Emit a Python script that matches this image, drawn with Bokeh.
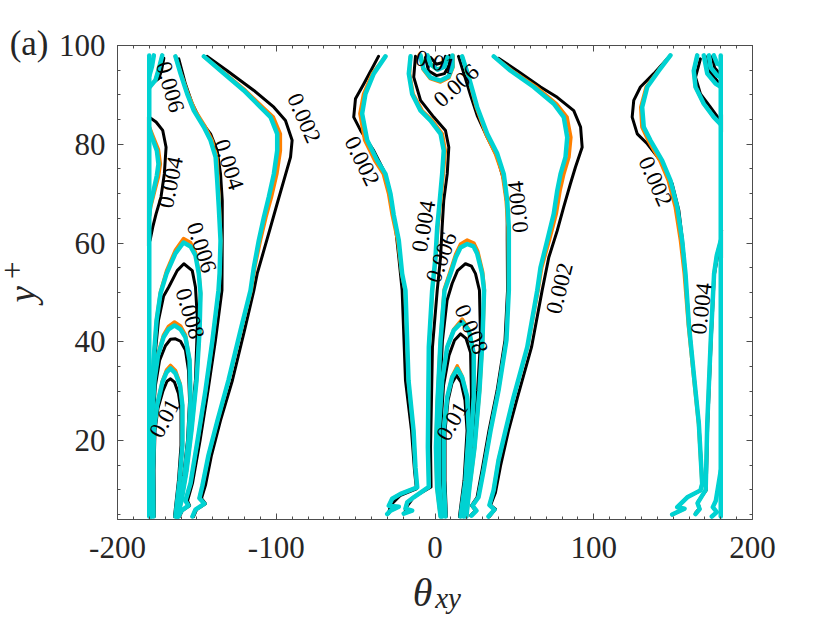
import math
from bokeh.plotting import figure
from bokeh.models import Range1d, LinearAxis, FixedTicker, Label
from bokeh.embed import file_html
from bokeh.resources import INLINE
from bokeh.core.properties import value

# ---------------- axes ----------------
x_ticks = [-200, -100, 0, 100, 200]
x_tick_labels = ["-200", "-100", "0", "100", "200"]
y_ticks = [20, 40, 60, 80, 100]
x_minor = list(range(-200, 201, 10))
y_minor = list(range(5, 101, 5))

# ---------------- contour lines (theta_xy, y+) ----------------
# cyan series
cyan_mid_xs = [
    [-31.2, -38.6, -43.8, -45.9, -42.7, -36.4, -31.2, -28.0, -26.0, -22.8, -20.7, -18.6, -16.7, -13.5, -12.3, -11.2, -21.7, -27.0, -29.1, -22.8, -28.0, -30.1],
    [-15.4, -16.5, -14.4, -9.1, -2.8, 3.5, 5.5, 4.5, 3.0, 1.4, 0.3, -1.8, -3.9, -4.5, -3.9, -13.4, -17.5, -18.6, -14.4, -19.7],
    [17.1, 21.3, 26.6, 32.9, 39.2, 43.3, 45.5, 46.5, 46.5, 46.5, 45.0, 40.0, 35.0, 30.6, 27.4, 23.6, 26.1, 23.0],
    [37.0, 47.6, 62.2, 74.8, 81.1, 83.3, 82.2, 79.1, 77.0, 74.8, 70.7, 66.5, 64.4, 58.1, 49.5, 44.4, 40.0, 36.9, 34.3, 37.5, 33.7],
    [3.5, 1.3, 0.6, 1.6, 3.5, 6.0, 9.8, 13.1, 16.1, 20.3, 24.3, 26.6, 29.7, 30.9, 29.9, 28.0, 24.9, 21.7, 19.8],
    [4.5, 2.4, 2.4, 4.5, 7.7, 11.8, 17.1, 21.3, 24.4, 24.4, 22.4, 20.3, 18.1],
    [6.6, 5.5, 5.5, 7.7, 10.8, 14.0, 17.1, 20.3, 21.3, 19.2, 16.1],
    [-9.1, -7.2, -2.8, 3.5, 8.5, 11.0, 11.0],
    [-4.7, -2.8, 1.6, 6.0, 7.9],
]
cyan_mid_ys = [
    [97.8, 94.3, 90.2, 86.2, 80.8, 76.7, 74.0, 69.9, 65.7, 60.5, 53.8, 50.4, 32.2, 22.0, 14.5, 10.5, 9.2, 8.2, 6.8, 6.6, 5.8, 5.1],
    [97.8, 94.3, 90.2, 86.8, 84.8, 82.1, 78.7, 74.0, 68.6, 63.2, 57.1, 50.4, 38.9, 18.7, 10.6, 8.5, 7.5, 6.2, 5.8, 5.2],
    [97.8, 93.6, 87.5, 82.1, 78.1, 74.0, 68.6, 63.2, 57.1, 50.4, 40.3, 30.1, 22.0, 13.9, 8.5, 6.8, 5.8, 4.8],
    [97.8, 94.9, 91.6, 88.2, 85.5, 81.4, 77.4, 74.0, 70.6, 65.9, 60.5, 55.1, 50.4, 38.9, 28.8, 22.0, 16.0, 9.9, 6.9, 6.0, 4.6],
    [4.6, 10.5, 18.6, 28.1, 40.3, 50.4, 53.8, 57.1, 59.1, 59.8, 59.3, 57.8, 53.8, 50.4, 40.3, 30.1, 18.6, 10.5, 4.6],
    [4.6, 11.9, 22.0, 32.2, 38.9, 42.3, 44.0, 42.3, 37.6, 28.8, 18.7, 10.6, 4.6],
    [4.6, 11.9, 22.0, 28.8, 32.8, 34.5, 32.8, 28.8, 22.0, 11.9, 4.6],
    [98.0, 95.3, 93.5, 92.9, 93.7, 95.7, 98.0],
    [98.0, 96.2, 95.1, 95.7, 97.6],
]
cyan_left_xs = [
    [-145.6, -135.0, -120.4, -109.9, -103.6, -99.4, -99.4, -101.5, -104.7, -107.8, -111.0, -114.1, -116.2, -122.5, -130.1, -137.0, -142.7, -146.5, -148.4, -145.2, -150.9, -152.8],
    [-163.5, -160.3, -156.1, -151.9, -145.6, -141.4, -138.2, -137.2, -136.2, -135.1, -135.7, -136.4, -140.2, -144.6, -149.6, -154.0, -157.2, -155.3, -159.7, -161.6],
    [-179.2, -179.5, -178.9, -177.3, -175.4, -172.9, -169.1, -163.5, -158.4, -154.0, -150.9, -148.8, -147.7, -148.3, -150.2, -153.4, -156.5, -159.7, -162.2],
    [-178.6, -178.9, -178.3, -176.7, -174.5, -171.0, -167.9, -164.1, -160.3, -157.2, -154.6, -154.0, -155.3, -157.8, -161.0, -162.9],
    [-177.3, -177.6, -177.0, -175.1, -171.7, -169.1, -166.6, -163.5, -160.6, -159.1, -159.1, -160.9, -163.5],
    [-180.0, -180.0],
    [-180.0, -178.3, -175.2, -174.2, -175.2, -177.3, -179.4, -180.0],
    [-171.8, -174.2, -176.1, -179.7],
    [-177.1, -178.3, -179.9],
]
cyan_left_ys = [
    [97.8, 94.9, 90.9, 87.5, 85.5, 82.1, 78.7, 74.0, 69.3, 65.2, 60.5, 55.1, 50.4, 42.3, 32.2, 24.1, 17.0, 10.9, 8.3, 7.2, 6.0, 4.6],
    [97.8, 94.3, 90.2, 86.8, 83.5, 80.8, 77.4, 72.7, 67.3, 60.5, 53.8, 50.4, 40.3, 30.1, 20.0, 11.3, 7.8, 6.8, 5.8, 4.6],
    [4.6, 11.9, 24.1, 36.2, 44.3, 49.8, 53.8, 57.9, 60.1, 59.3, 57.5, 53.8, 49.8, 42.3, 32.2, 22.0, 13.9, 7.8, 4.6],
    [4.6, 13.9, 24.1, 32.2, 37.2, 40.9, 42.5, 43.3, 42.5, 40.9, 36.2, 28.1, 20.0, 12.9, 6.8, 4.6],
    [4.6, 13.9, 22.0, 27.1, 31.8, 33.8, 34.6, 33.6, 31.2, 27.1, 19.0, 11.9, 4.6],
    [4.6, 98.0],
    [83.2, 81.4, 78.7, 76.0, 73.7, 70.6, 67.6, 65.6],
    [98.0, 95.0, 93.0, 91.6],
    [98.0, 95.7, 93.9],
]
cyan_right_xs = [
    [148.3, 141.0, 133.7, 130.5, 131.5, 135.7, 143.1, 148.3, 152.6, 155.7, 157.8, 159.9, 163.0, 166.2, 168.3, 167.2, 158.9, 152.6, 157.2, 149.4],
    [165.2, 163.0, 164.1, 169.3, 175.6, 180.0],
    [180.0, 177.5, 175.8, 173.7, 171.5, 170.5, 165.4, 166.7, 164.1],
    [180.0, 176.9, 175.0, 177.5, 174.4],
    [180.0, 180.0],
    [169.3, 171.5, 176.7, 180.0],
    [172.5, 173.5, 177.8, 180.0],
    [175.6, 177.8, 180.0],
]
cyan_right_ys = [
    [98.0, 94.9, 91.6, 87.5, 83.5, 80.8, 76.7, 72.7, 67.3, 60.5, 53.8, 43.6, 33.5, 23.4, 11.2, 9.9, 8.5, 6.5, 6.2, 5.0],
    [98.0, 94.9, 91.6, 88.2, 85.5, 84.0],
    [60.5, 57.5, 53.8, 40.3, 23.4, 10.0, 7.3, 6.1, 5.1],
    [13.9, 7.8, 6.5, 5.5, 4.6],
    [4.6, 98.0],
    [98.0, 94.3, 92.3, 91.6],
    [98.0, 95.6, 93.9, 93.6],
    [98.0, 96.3, 96.0],
]

# black series
black_mid_xs = [
    [-35.6, -44.9, -50.1, -51.2, -46.9, -38.6, -32.3, -28.0, -24.9, -22.8, -20.7, -18.6, -14.8, -12.9, -11.7, -21.7, -28.0, -29.3],
    [-12.3, -13.4, -9.1, -0.8, 6.6, 8.7, 7.7, 5.5, 4.5, 3.5, 1.4, -1.6, -2.8, -2.5, -13.5, -18.0, -19.2],
    [14.8, 18.6, 22.4, 26.6, 32.9, 39.2, 43.3, 45.5, 45.5, 45.7, 44.1, 39.1, 34.0, 29.6, 26.5, 23.0, 25.5, 22.4],
    [40.0, 51.8, 66.5, 77.0, 87.4, 91.7, 92.7, 88.5, 85.3, 81.1, 77.0, 71.7, 67.5, 60.8, 52.0, 46.3, 41.3, 38.1, 35.0, 38.1, 34.3],
    [4.7, 2.2, 1.9, 2.8, 4.7, 7.6, 10.8, 14.2, 19.2, 23.0, 25.5, 28.0, 28.7, 26.8, 23.6, 20.8, 18.9],
    [5.4, 3.5, 3.5, 5.4, 8.8, 12.3, 16.1, 19.5, 22.4, 23.0, 21.4, 19.5, 17.3],
    [7.2, 6.3, 6.3, 8.2, 10.7, 13.5, 16.4, 18.9, 20.2, 18.3, 15.4],
    [-6.0, -4.1, 0.9, 6.0, 9.1, 9.1],
    [-2.8, 0.9, 5.4, 6.6],
]
black_mid_ys = [
    [97.8, 92.2, 89.2, 85.5, 82.8, 78.7, 74.7, 68.6, 63.2, 57.1, 50.4, 32.2, 22.0, 13.9, 10.2, 8.9, 6.9, 5.2],
    [97.8, 93.6, 88.9, 85.5, 82.8, 79.4, 74.0, 68.6, 63.2, 57.1, 50.4, 38.9, 18.7, 10.6, 8.5, 6.5, 5.2],
    [97.8, 93.9, 89.9, 85.8, 81.4, 77.4, 72.7, 67.3, 60.5, 50.4, 40.3, 30.1, 22.0, 13.9, 8.5, 6.8, 5.8, 4.8],
    [97.4, 94.9, 91.6, 89.5, 86.8, 83.5, 79.4, 75.4, 72.0, 67.3, 62.5, 57.1, 50.4, 38.9, 28.8, 22.0, 14.9, 9.5, 6.9, 6.1, 4.6],
    [4.6, 10.6, 18.7, 28.1, 40.3, 48.4, 51.8, 54.4, 55.8, 55.3, 53.8, 50.4, 40.3, 30.1, 18.7, 10.6, 4.6],
    [4.6, 11.9, 22.0, 31.2, 37.2, 40.3, 41.6, 40.7, 37.8, 28.8, 18.7, 10.6, 4.6],
    [4.6, 11.9, 22.0, 28.1, 31.6, 33.2, 31.8, 28.1, 22.0, 11.9, 4.6],
    [97.6, 94.9, 93.9, 94.3, 96.2, 98.0],
    [97.6, 96.2, 96.6, 97.8],
]
black_left_xs = [
    [-143.5, -130.9, -114.1, -101.5, -94.2, -90.0, -91.0, -95.2, -99.4, -103.6, -107.8, -112.0, -114.1, -120.0, -127.6, -135.1, -140.8, -144.6, -147.1, -144.6, -150.2, -152.1],
    [-161.4, -157.2, -152.9, -147.7, -141.4, -137.2, -135.1, -134.0, -134.0, -134.2, -138.3, -143.0, -148.0, -152.8, -155.9, -154.6, -159.1, -161.0],
    [-180.0, -175.7, -171.5, -169.4, -170.5, -172.6, -175.7, -177.8, -179.5],
    [-180.5, -180.5],
    [-178.6, -178.9, -178.3, -176.7, -174.2, -171.0, -167.7, -162.4, -158.2, -152.9, -150.9, -149.6, -150.9, -154.0, -157.2, -160.3, -162.2],
    [-178.0, -178.3, -177.6, -176.1, -173.5, -169.8, -166.6, -163.5, -160.3, -157.2, -155.3, -154.6, -155.9, -158.4, -161.6, -163.5],
    [-176.7, -177.0, -176.4, -174.5, -171.3, -168.8, -166.6, -164.1, -161.6, -160.0, -160.0, -161.6, -164.1],
    [-170.8, -172.3, -174.0, -178.2, -180.0],
]
black_left_ys = [
    [97.8, 94.9, 90.9, 87.5, 84.8, 80.8, 77.4, 72.7, 68.0, 63.2, 58.5, 53.8, 50.4, 42.3, 32.2, 24.1, 17.0, 10.9, 8.3, 7.2, 6.0, 4.6],
    [97.3, 92.2, 88.2, 84.8, 82.1, 78.7, 74.0, 68.6, 61.9, 50.4, 40.3, 30.1, 20.0, 11.3, 7.8, 6.8, 5.8, 4.6],
    [85.5, 84.5, 82.8, 79.4, 74.0, 69.3, 65.9, 63.2, 60.5],
    [59.5, 85.5],
    [4.6, 11.9, 24.1, 36.2, 44.3, 49.2, 51.1, 54.4, 55.8, 54.4, 51.1, 44.3, 32.2, 22.0, 13.9, 7.8, 4.6],
    [4.6, 13.9, 24.1, 31.2, 36.2, 39.2, 40.5, 40.6, 40.1, 38.3, 34.2, 28.1, 20.0, 12.9, 6.8, 4.6],
    [4.6, 13.9, 22.0, 26.5, 30.1, 32.0, 32.5, 31.8, 29.5, 26.1, 19.0, 11.9, 4.6],
    [97.4, 94.9, 93.3, 92.3, 92.1],
]
black_right_xs = [
    [146.3, 137.8, 129.4, 125.2, 124.2, 127.4, 133.7, 142.0, 149.4, 153.6, 155.9, 157.8, 160.0, 163.1, 166.3, 168.5, 167.2, 159.1, 152.8, 157.2, 149.6],
    [167.2, 164.1, 167.2, 173.5, 178.8, 180.0],
    [180.0, 177.8, 175.9, 174.0, 171.8, 170.8, 165.4, 166.7, 164.1],
    [180.5, 180.5],
    [180.5, 180.5],
    [171.7, 173.5, 178.6, 180.0],
    [174.8, 176.1, 179.9, 180.0],
]
black_right_ys = [
    [97.3, 94.3, 91.6, 88.9, 85.5, 82.1, 80.1, 76.7, 72.0, 66.6, 60.5, 53.8, 43.6, 33.5, 23.4, 11.2, 9.9, 8.5, 6.5, 6.2, 5.0],
    [97.3, 93.6, 90.2, 87.5, 85.2, 84.8],
    [59.9, 56.9, 53.4, 40.3, 23.4, 9.9, 7.5, 6.3, 5.3],
    [82.5, 86.0],
    [57.0, 62.6],
    [97.8, 94.5, 92.5, 92.1],
    [97.8, 95.5, 94.1, 93.9],
]

# orange series
orange_mid_xs = [
    [-31.2, -39.5, -45.0, -47.3, -44.3, -38.0, -32.6, -29.2, -27.0, -23.5, -21.0, -18.8, -16.8, -13.6, -12.4, -11.3, -21.7, -27.0, -29.1, -22.8, -28.0, -30.1],
    [-15.4, -16.0, -13.8, -8.0, -1.6, 4.6, 6.5, 5.2, 3.6, 1.8, 0.5, -1.6, -3.8, -4.4, -3.8, -13.4, -17.5, -18.6, -14.4, -19.7],
    [17.1, 21.0, 26.0, 32.0, 38.0, 42.4, 44.8, 46.0, 46.2, 46.3, 44.9, 39.9, 34.9, 30.5, 27.3, 23.6, 26.1, 23.0],
    [37.0, 48.6, 63.7, 76.6, 83.2, 85.6, 84.4, 81.2, 78.8, 76.4, 72.0, 67.3, 64.9, 58.3, 49.6, 44.5, 40.0, 36.9, 34.3, 37.5, 33.7],
    [3.4, 1.2, 0.5, 1.5, 3.4, 5.8, 9.6, 13.0, 16.1, 20.3, 24.5, 26.9, 30.0, 31.1, 30.0, 28.1, 25.0, 21.8, 19.9],
    [4.5, 2.4, 2.4, 4.5, 7.7, 11.8, 17.1, 21.3, 24.4, 24.4, 22.4, 20.3, 18.1],
    [6.6, 5.5, 5.5, 7.7, 10.8, 14.0, 17.1, 20.3, 21.3, 19.2, 16.1],
    [-9.6, -7.6, -3.0, 3.5, 8.8, 11.4, 11.4],
    [-4.7, -2.8, 1.6, 6.0, 7.9],
]
orange_mid_ys = [
    [97.8, 94.3, 90.2, 86.2, 80.8, 76.7, 74.0, 69.9, 65.7, 60.5, 53.8, 50.4, 32.2, 22.0, 14.5, 10.5, 9.2, 8.2, 6.8, 6.6, 5.8, 5.1],
    [97.8, 94.3, 90.2, 86.8, 84.8, 82.1, 78.7, 74.0, 68.6, 63.2, 57.1, 50.4, 38.9, 18.7, 10.6, 8.5, 7.5, 6.2, 5.8, 5.2],
    [97.8, 93.6, 87.5, 82.1, 78.1, 74.0, 68.6, 63.2, 57.1, 50.4, 40.3, 30.1, 22.0, 13.9, 8.5, 6.8, 5.8, 4.8],
    [97.8, 94.9, 91.6, 88.2, 85.5, 81.4, 77.4, 74.0, 70.6, 65.9, 60.5, 55.1, 50.4, 38.9, 28.8, 22.0, 16.0, 9.9, 6.9, 6.0, 4.6],
    [4.6, 10.5, 18.6, 28.1, 40.3, 50.6, 54.3, 57.7, 59.8, 60.6, 60.0, 58.4, 54.2, 50.6, 40.3, 30.1, 18.6, 10.5, 4.6],
    [4.6, 11.9, 22.0, 32.2, 38.9, 42.5, 44.6, 42.5, 37.8, 28.8, 18.7, 10.6, 4.6],
    [4.6, 11.9, 22.0, 28.8, 33.0, 35.1, 33.0, 28.8, 22.0, 11.9, 4.6],
    [98.0, 95.2, 93.3, 92.6, 93.5, 95.6, 98.0],
    [98.0, 96.2, 95.1, 95.7, 97.6],
]
orange_left_xs = [
    [-145.6, -134.4, -119.4, -108.4, -101.8, -97.4, -97.4, -99.6, -103.0, -106.5, -110.0, -113.5, -115.8, -122.2, -129.9, -136.9, -142.6, -146.5, -148.4, -145.2, -150.9, -152.8],
    [-163.5, -160.0, -155.5, -151.0, -144.6, -140.4, -137.4, -136.6, -135.8, -134.9, -135.6, -136.3, -140.1, -144.5, -149.5, -154.0, -157.2, -155.3, -159.7, -161.6],
    [-179.2, -179.5, -178.9, -177.3, -175.4, -172.9, -169.1, -163.5, -158.4, -154.0, -150.9, -148.8, -147.7, -148.3, -150.2, -153.4, -156.5, -159.7, -162.2],
    [-178.6, -178.9, -178.3, -176.7, -174.5, -171.0, -167.9, -164.1, -160.3, -157.2, -154.6, -154.0, -155.3, -157.8, -161.0, -162.9],
    [-177.3, -177.6, -177.0, -175.1, -171.7, -169.1, -166.6, -163.5, -160.6, -159.1, -159.1, -160.9, -163.5],
    [-180.0, -177.8, -174.2, -173.0, -174.2, -176.8, -179.2, -180.0],
    [-171.8, -174.2, -176.1, -179.7],
]
orange_left_ys = [
    [97.8, 94.9, 90.9, 87.5, 85.5, 82.1, 78.7, 74.0, 69.3, 65.2, 60.5, 55.1, 50.4, 42.3, 32.2, 24.1, 17.0, 10.9, 8.3, 7.2, 6.0, 4.6],
    [97.8, 94.3, 90.2, 86.8, 83.5, 80.8, 77.4, 72.7, 67.3, 60.5, 53.8, 50.4, 40.3, 30.1, 20.0, 11.3, 7.8, 6.8, 5.8, 4.6],
    [4.6, 11.9, 24.1, 36.2, 44.5, 50.2, 54.4, 58.6, 60.9, 60.1, 58.1, 54.2, 50.0, 42.3, 32.2, 22.0, 13.9, 7.8, 4.6],
    [4.6, 13.9, 24.1, 32.3, 37.5, 41.4, 43.1, 44.0, 43.2, 41.4, 36.4, 28.1, 20.0, 12.9, 6.8, 4.6],
    [4.6, 13.9, 22.0, 27.2, 32.1, 34.3, 35.2, 34.2, 31.6, 27.2, 19.0, 11.9, 4.6],
    [83.6, 81.8, 78.9, 76.0, 73.4, 70.2, 67.2, 65.0],
    [98.0, 95.0, 93.0, 91.6],
]
orange_right_xs = [
    [148.3, 140.6, 133.0, 129.6, 130.3, 134.2, 141.6, 146.9, 151.3, 154.6, 157.0, 159.5, 162.7, 166.0, 168.2, 167.2, 158.9, 152.6, 157.2, 149.4],
    [165.2, 163.0, 164.1, 169.3, 175.6, 180.0],
    [180.0, 177.5, 175.8, 173.7, 171.5, 170.5, 165.4, 166.7, 164.1],
]
orange_right_ys = [
    [98.0, 94.9, 91.6, 87.5, 83.5, 80.8, 76.7, 72.7, 67.3, 60.5, 53.8, 43.6, 33.5, 23.4, 11.2, 9.9, 8.5, 6.5, 6.2, 5.0],
    [98.0, 94.9, 91.6, 88.2, 85.5, 84.0],
    [60.5, 57.5, 53.8, 40.3, 23.4, 10.0, 7.3, 6.1, 5.1],
]

# contour level labels
label_text = ["0.002", "0.004", "0.006", "0.004", "0.006", "0.008", "0.01",
              "0.002", "0.01", "0.006", "0.004", "0.004", "0.006", "0.002", "0.008", "0.01",
              "0.002", "0.004"]
label_x = [-82.5, -129.8, -166.8, -166.6, -147.0, -154.3, -170.3,
           -45.9, 0.3, 13.4, -7.1, 52.3, 4.0, 78.4, 22.9, 10.8,
           138.9, 167.8]
label_y = [85.3, 75.9, 91.6, 72.3, 59.1, 45.7, 24.5,
           76.6, 96.6, 91.9, 63.4, 67.3, 57.1, 50.8, 42.5, 23.9,
           72.5, 46.7]
label_angle = [-66, -72, -74, 78, -72, -73, 62,
               -64, -15, 42, 80, 96, 70, 76, -66, 60,
               -66, 83]

# ---------------- figure ----------------
FONT = "Liberation Serif"
AXC = "#4d4d4d"
TXT = "#262626"

p = figure(frame_width=635, frame_height=474,
           x_range=Range1d(-200, 200), y_range=Range1d(4, 100),
           min_border_left=117, min_border_right=70, min_border_top=45, min_border_bottom=100,
           output_backend="svg", toolbar_location=None,
           background_fill_color="white", border_fill_color="white")
p.grid.visible = False
p.outline_line_color = None


def style_axis(ax, ticks, minors, show):
    ax.ticker = FixedTicker(ticks=ticks, minor_ticks=minors)
    ax.axis_line_color = AXC
    ax.axis_line_width = 1
    ax.major_tick_line_color = AXC
    ax.minor_tick_line_color = AXC
    ax.major_tick_in = 6
    ax.major_tick_out = 0
    ax.minor_tick_in = 3
    ax.minor_tick_out = 0
    ax.major_label_text_font = FONT
    ax.major_label_text_color = TXT
    if show:
        ax.major_label_text_font_size = "31px"
    else:
        ax.major_label_overrides = {t: "" for t in ticks}
        ax.major_label_text_font_size = "1px"
        ax.major_label_standoff = 0


style_axis(p.xaxis[0], x_ticks, x_minor, True)
p.xaxis[0].major_label_overrides = {t: s for t, s in zip(x_ticks, x_tick_labels)}
p.xaxis[0].major_label_standoff = 17
style_axis(p.yaxis[0], y_ticks, y_minor, True)
p.yaxis[0].major_label_standoff = 12

top_ax = LinearAxis()
style_axis(top_ax, x_ticks, x_minor, False)
p.add_layout(top_ax, "above")
right_ax = LinearAxis()
style_axis(right_ax, y_ticks, y_minor, False)
p.add_layout(right_ax, "right")

# contour lines: black, then orange, then cyan on top
p.multi_line(xs=black_mid_xs + black_left_xs + black_right_xs,
             ys=black_mid_ys + black_left_ys + black_right_ys,
             line_color="black", line_width=3, line_join="round", line_cap="round")
p.multi_line(xs=orange_mid_xs + orange_left_xs + orange_right_xs,
             ys=orange_mid_ys + orange_left_ys + orange_right_ys,
             line_color="#FF8000", line_width=3.5, line_join="round", line_cap="round")
p.multi_line(xs=cyan_mid_xs + cyan_left_xs + cyan_right_xs,
             ys=cyan_mid_ys + cyan_left_ys + cyan_right_ys,
             line_color="#00D2D2", line_width=4.5, line_join="round", line_cap="round")

p.text(x=label_x, y=label_y, text=label_text, angle=label_angle, angle_units="deg",
       text_font=value(FONT), text_font_size="23px", text_color="black",
       text_align="center", text_baseline="middle")

# axis titles and panel tag (placed in side panels so they are not clipped by the frame)
lab_y = Label(x=-259.6, y=49.6, text="y", angle=90, angle_units="deg",
              text_font=FONT, text_font_style="italic", text_font_size="37px",
              text_color=TXT, text_align="center", text_baseline="middle")
lab_plus = Label(x=-266.3, y=54.4, text="+",
                 text_font=FONT, text_font_size="32px",
                 text_color=TXT, text_align="center", text_baseline="middle")
lab_theta = Label(x=-7.9, y=-10.8, text="θ",
                  text_font=FONT, text_font_style="italic", text_font_size="40px",
                  text_color=TXT, text_align="center", text_baseline="middle")
lab_xy = Label(x=8.2, y=-11.9, text="xy",
               text_font=FONT, text_font_style="italic", text_font_size="29px",
               text_color=TXT, text_align="center", text_baseline="middle")
lab_a = Label(x=-255.7, y=100.5, text="(a)",
              text_font=FONT, text_font_size="35px",
              text_color=TXT, text_align="center", text_baseline="middle")
p.add_layout(lab_y, "left")
p.add_layout(lab_xy, "below")
p.add_layout(lab_plus, "above")
p.add_layout(lab_a, "right")
p.add_layout(lab_theta, "right")

open("out.html", "w").write(file_html(p, INLINE))
